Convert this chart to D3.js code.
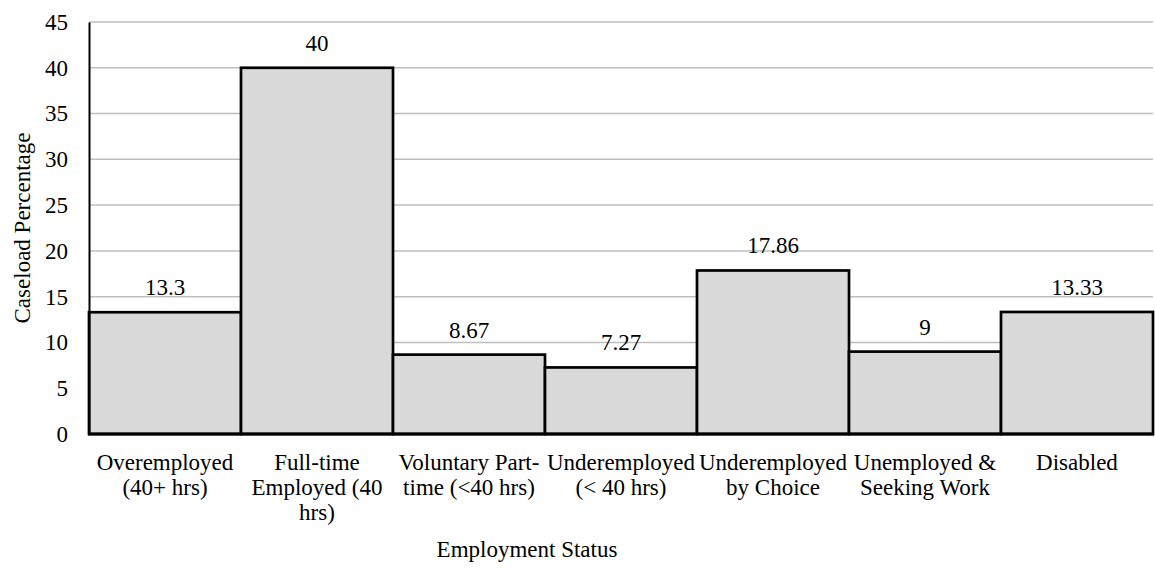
<!DOCTYPE html>
<html>
<head>
<meta charset="utf-8">
<script src="https://cdn.jsdelivr.net/npm/d3@7/dist/d3.min.js"></script>
<style>
  html, body { margin: 0; padding: 0; background: #fff; }
  svg { display: block; }
</style>
</head>
<body>
<svg id="chart" width="1155" height="568"></svg>
<script>
// Employment status categories and their caseload percentages
const categories = [
  "Overemployed (40+ hrs)",
  "Full-time Employed (40 hrs)",
  "Voluntary Part-time (<40 hrs)",
  "Underemployed (< 40 hrs)",
  "Underemployed by Choice",
  "Unemployed & Seeking Work",
  "Disabled"
];
const values = [13.3, 40, 8.67, 7.27, 17.86, 9, 13.33];
const valueLabels = ["13.3", "40", "8.67", "7.27", "17.86", "9", "13.33"];
const yTicks = [0, 5, 10, 15, 20, 25, 30, 35, 40, 45];

const FONT = "Liberation Serif";
const fontSize = 23;
const W = 1155, H = 568;
const margin = { left: 89, right: 2, top: 22, bottom: 134 };

const svg = d3.select("#chart")
  .attr("font-family", FONT);

const x = d3.scaleBand()
  .domain(categories)
  .range([margin.left, W - margin.right])
  .paddingInner(0)
  .paddingOuter(0);

const y = d3.scaleLinear()
  .domain([0, 45])
  .range([H - margin.bottom, margin.top]);

// Horizontal gridlines
svg.append("g")
  .selectAll("line")
  .data(yTicks.filter(d => d > 0))
  .join("line")
  .attr("x1", margin.left)
  .attr("x2", W - margin.right)
  .attr("y1", d => y(d))
  .attr("y2", d => y(d))
  .attr("stroke", "#bfbfbf")
  .attr("stroke-width", 1.5);

// Bars
svg.append("g")
  .selectAll("rect")
  .data(values)
  .join("rect")
  .attr("x", (d, i) => x(categories[i]))
  .attr("y", d => y(d))
  .attr("width", x.bandwidth())
  .attr("height", d => y(0) - y(d))
  .attr("fill", "#d9d9d9")
  .attr("stroke", "#000")
  .attr("stroke-width", 2.7);

// Value labels above bars
svg.append("g")
  .selectAll("text")
  .data(values)
  .join("text")
  .attr("x", (d, i) => x(categories[i]) + x.bandwidth() / 2)
  .attr("y", d => y(d) - 17)
  .attr("text-anchor", "middle")
  .attr("font-family", FONT)
  .attr("font-size", fontSize)
  .attr("fill", "#000")
  .text((d, i) => valueLabels[i]);

// Y axis
const yAxis = svg.append("g")
  .attr("transform", `translate(${margin.left},0)`)
  .call(d3.axisLeft(y).tickValues(yTicks).tickSize(0).tickPadding(21))
  .attr("font-family", FONT)
  .attr("font-size", fontSize);
yAxis.select(".domain").attr("stroke", "#000").attr("stroke-width", 2);
yAxis.selectAll("text")
  .attr("font-family", FONT)
  .attr("font-size", fontSize)
  .attr("fill", "#000");

// X axis baseline
svg.append("line")
  .attr("x1", margin.left - 1)
  .attr("x2", W - margin.right + 1)
  .attr("y1", y(0))
  .attr("y2", y(0))
  .attr("stroke", "#000")
  .attr("stroke-width", 3);

// Category labels, wrapped to the band width (breaks at spaces and after hyphens)
function tokens(label) {
  const out = [];
  label.split(" ").forEach((w, wi, arr) => {
    const parts = w.split(/(?<=-)/);
    parts.forEach((p, pi) => {
      const last = pi === parts.length - 1;
      out.push({ text: p, space: last && wi < arr.length - 1 });
    });
  });
  return out;
}

const catG = svg.append("g");
categories.forEach(cat => {
  const cx = x(cat) + x.bandwidth() / 2;
  const t = catG.append("text")
    .attr("text-anchor", "middle")
    .attr("font-family", FONT)
    .attr("font-size", fontSize)
    .attr("fill", "#000");
  const maxW = x.bandwidth() - 2;
  const toks = tokens(cat);
  const lines = [];
  let cur = "";
  const probe = t.append("tspan");
  toks.forEach(tk => {
    const candidate = cur + tk.text;
    probe.text(candidate);
    if (cur !== "" && probe.node().getComputedTextLength() > maxW) {
      lines.push(cur.trimEnd());
      cur = tk.text + (tk.space ? " " : "");
    } else {
      cur = candidate + (tk.space ? " " : "");
    }
  });
  if (cur.trim() !== "") lines.push(cur.trimEnd());
  probe.remove();
  lines.forEach((ln, i) => {
    t.append("tspan")
      .attr("x", cx)
      .attr("y", 470 + i * 25)
      .text(ln);
  });
});

// Axis titles
svg.append("text")
  .attr("x", 527)
  .attr("y", 557)
  .attr("text-anchor", "middle")
  .attr("font-family", FONT)
  .attr("font-size", fontSize)
  .attr("fill", "#000")
  .text("Employment Status");

svg.append("text")
  .attr("transform", `translate(30,228) rotate(-90)`)
  .attr("text-anchor", "middle")
  .attr("font-family", FONT)
  .attr("font-size", fontSize)
  .attr("fill", "#000")
  .text("Caseload Percentage");
</script>
</body>
</html>
